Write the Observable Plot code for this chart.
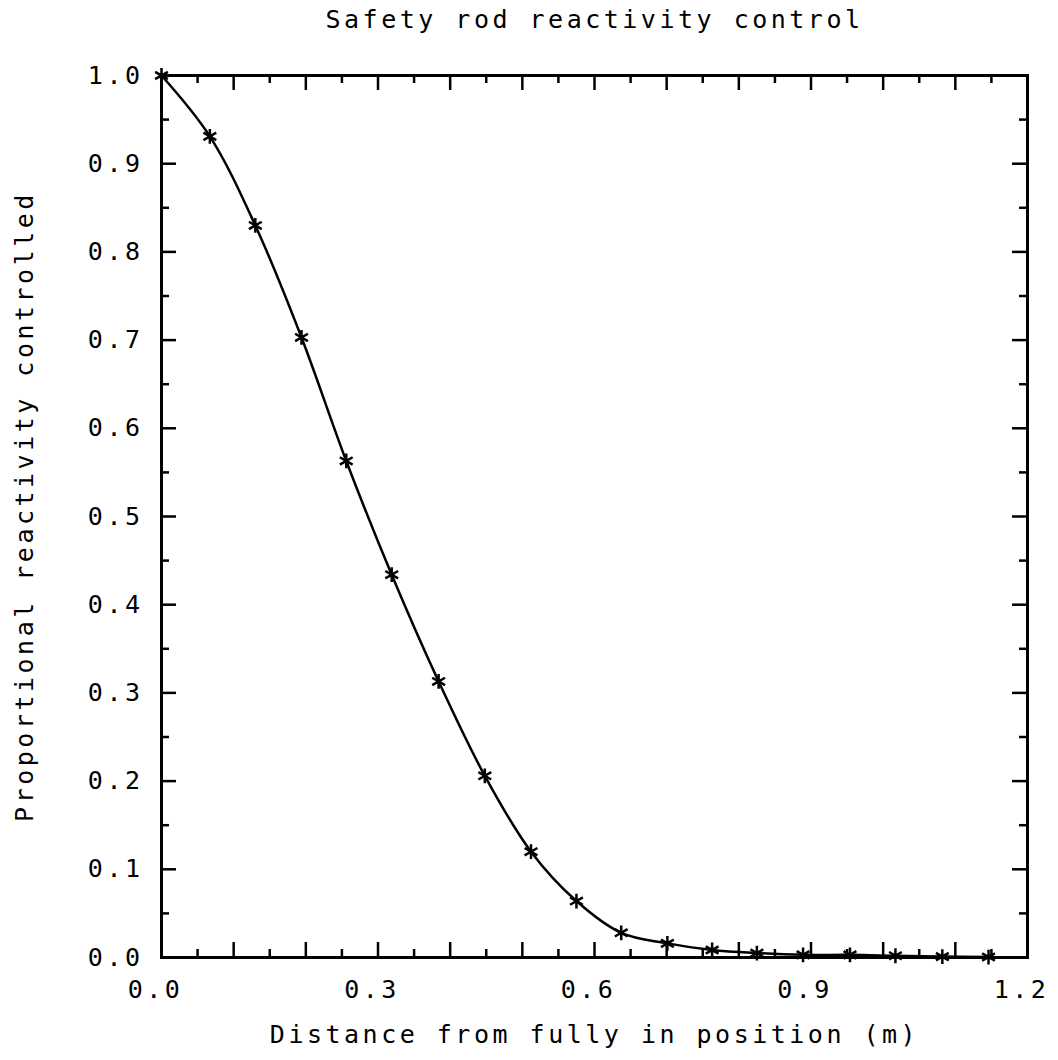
<!DOCTYPE html>
<html>
<head>
<meta charset="utf-8">
<script src="https://cdn.jsdelivr.net/npm/d3@7"></script>
<script src="https://cdn.jsdelivr.net/npm/@observablehq/plot@0.6"></script>
<style>
  html, body { margin: 0; padding: 0; background: #fff; }
</style>
</head>
<body>
<div id="chart"></div>
<script>
const titleText = "Safety rod reactivity control";
const xLabelText = "Distance from fully in position (m)";
const yLabelText = "Proportional reactivity controlled";

// distance from fully-in position (m)
const distance = [0, 0.067, 0.130, 0.194, 0.256, 0.319, 0.384, 0.448, 0.512, 0.575,
                  0.637, 0.701, 0.763, 0.825, 0.889, 0.954, 1.017, 1.082, 1.146];
// proportional reactivity controlled
const reactivity = [1.0, 0.931, 0.830, 0.703, 0.563, 0.434, 0.313, 0.206, 0.120, 0.064,
                    0.028, 0.016, 0.0085, 0.005, 0.003, 0.003, 0.002, 0.001, 0.0005];

const xTickLabels = [0, 0.3, 0.6, 0.9, 1.2];
const xMajorTicks = [0.1, 0.2, 0.3, 0.4, 0.5, 0.6, 0.7, 0.8, 0.9, 1.0, 1.1];
const xMinorTicks = [0.05, 0.15, 0.25, 0.35, 0.45, 0.55, 0.65, 0.75, 0.85, 0.95, 1.05, 1.15];
const yTickLabels = [0, 0.1, 0.2, 0.3, 0.4, 0.5, 0.6, 0.7, 0.8, 0.9, 1.0];
const yMajorTicks = [0.1, 0.2, 0.3, 0.4, 0.5, 0.6, 0.7, 0.8, 0.9];
const yMinorTicks = [0.05, 0.15, 0.25, 0.35, 0.45, 0.55, 0.65, 0.75, 0.85, 0.95];

const data = distance.map((d, i) => ({x: d, y: reactivity[i]}));

const W = 1058, H = 1060;
const mL = 161, mR = 31, mT = 75, mB = 103;
const fw = W - mL - mR, fh = H - mT - mB;
const major = 15, minor = 8, sw = 2.5;

const chart = Plot.plot({
  width: W,
  height: H,
  marginLeft: mL,
  marginRight: mR,
  marginTop: mT,
  marginBottom: mB,
  style: {
    fontFamily: "'DejaVu Sans Mono', monospace",
    fontSize: "25px",
    letterSpacing: "3.5px",
    color: "#000",
    background: "#fff"
  },
  x: {domain: [0, 1.2]},
  y: {domain: [0, 1]},
  marks: [
    // inward ticks: bottom, top
    Plot.tickX(xMajorTicks, {x: d => d, insetTop: fh - major, stroke: "#000", strokeWidth: sw}),
    Plot.tickX(xMinorTicks, {x: d => d, insetTop: fh - minor, stroke: "#000", strokeWidth: sw}),
    Plot.tickX(xMajorTicks, {x: d => d, insetBottom: fh - major, stroke: "#000", strokeWidth: sw}),
    Plot.tickX(xMinorTicks, {x: d => d, insetBottom: fh - minor, stroke: "#000", strokeWidth: sw}),
    // inward ticks: left, right
    Plot.tickY(yMajorTicks, {y: d => d, insetRight: fw - major, stroke: "#000", strokeWidth: sw}),
    Plot.tickY(yMinorTicks, {y: d => d, insetRight: fw - minor, stroke: "#000", strokeWidth: sw}),
    Plot.tickY(yMajorTicks, {y: d => d, insetLeft: fw - major, stroke: "#000", strokeWidth: sw}),
    Plot.tickY(yMinorTicks, {y: d => d, insetLeft: fw - minor, stroke: "#000", strokeWidth: sw}),
    Plot.frame({stroke: "#000", strokeWidth: 3}),
    Plot.axisX({
      ticks: xTickLabels, tickSize: 0, tickPadding: 23, tickFormat: d3.format(".1f"),
      dx: -6,
      label: xLabelText, labelAnchor: "center", labelArrow: "none", labelOffset: 85
    }),
    Plot.axisY({
      ticks: yTickLabels, tickSize: 0, tickPadding: 18, tickFormat: d3.format(".1f"),
      label: null
    }),
    Plot.text([yLabelText], {
      frameAnchor: "left", textAnchor: "middle", rotate: -90, dx: -146, dy: -10,
      lineAnchor: "top", text: d => d, letterSpacing: "3.9px"
    }),
    Plot.text([titleText], {frameAnchor: "top", dy: -48, lineAnchor: "bottom", text: d => d}),
    Plot.line(data, {x: "x", y: "y", curve: "catmull-rom", stroke: "#000", strokeWidth: 2.5}),
    Plot.dot(data, {x: "x", y: "y", symbol: "asterisk", r: 7, stroke: "#000", strokeWidth: 2.5})
  ]
});

document.getElementById("chart").appendChild(chart);
</script>
</body>
</html>
